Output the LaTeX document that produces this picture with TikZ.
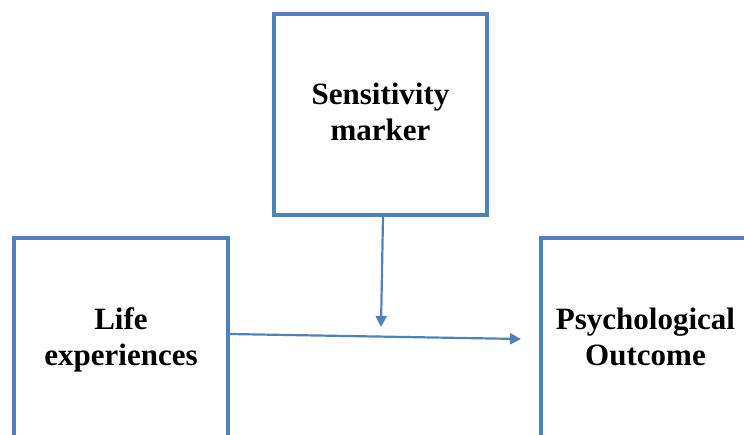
\documentclass[tikz,border=0pt]{standalone}
\usepackage{fontspec}
\setmainfont{Liberation Serif}
\usetikzlibrary{arrows.meta, positioning}
\definecolor{boxblue}{HTML}{4F81BD}
\tikzset{
  varbox/.style={draw=boxblue, line width=3.3pt, align=center,
    font=\bfseries\fontsize{31}{36}\selectfont, inner sep=0pt},
  effect/.style={draw=boxblue, line width=2.2pt,
    -{Triangle[length=11pt,width=11pt]}}
}
\begin{document}
\begin{tikzpicture}[x=1pt, y=-1pt]
\useasboundingbox (0,0) rectangle (744,434);
\clip (0,0) rectangle (744,434);
\node[varbox, minimum width=213pt, minimum height=201pt] (sens) at (380.5,114.5)%
{Sensitivity\\ marker\rule[-6pt]{0pt}{6pt}};
\node[varbox, minimum width=214pt, minimum height=210pt] (life) at (121,343)%
{Life\\ experiences\rule[-12pt]{0pt}{12pt}};
\node[varbox, minimum width=209pt, minimum height=210pt] (outcome) at (645.5,343)%
{Psychological\\ Outcome\rule[-12pt]{0pt}{12pt}};
\coordinate (tipdown) at (381,327);
\coordinate (tipright) at (521,339);
\draw[effect] (sens.south -| 383,0) -- (tipdown);
\draw[effect] (life.east |- 0,334) -- (tipright);
\end{tikzpicture}
\end{document}
